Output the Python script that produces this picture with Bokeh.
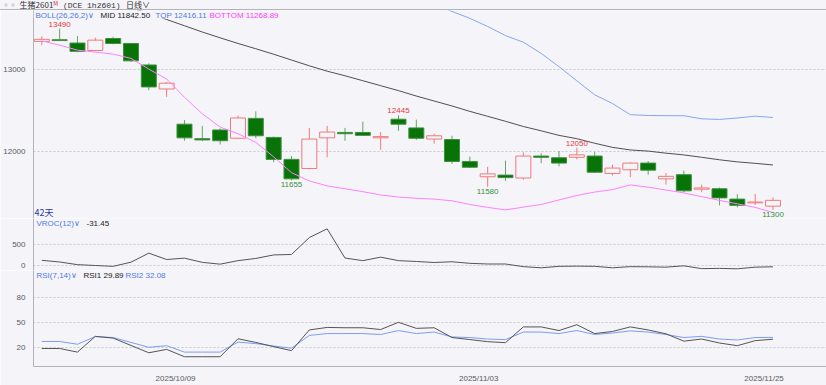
from bokeh.plotting import figure
from bokeh.models import Range1d, FixedTicker, Label, Span, BoxAnnotation, Div
from bokeh.layouts import column
from bokeh.embed import file_html
from bokeh.resources import INLINE

nan = float("nan")

dates = ["2025/09/19", "2025/09/22", "2025/09/23", "2025/09/24", "2025/09/25", "2025/09/26",
         "2025/09/29", "2025/09/30", "2025/10/09", "2025/10/10", "2025/10/13", "2025/10/14",
         "2025/10/15", "2025/10/16", "2025/10/17", "2025/10/20", "2025/10/21", "2025/10/22",
         "2025/10/23", "2025/10/24", "2025/10/27", "2025/10/28", "2025/10/29", "2025/10/30",
         "2025/10/31", "2025/11/03", "2025/11/04", "2025/11/05", "2025/11/06", "2025/11/07",
         "2025/11/10", "2025/11/11", "2025/11/12", "2025/11/13", "2025/11/14", "2025/11/17",
         "2025/11/18", "2025/11/19", "2025/11/20", "2025/11/21", "2025/11/24", "2025/11/25"]

opens = [13335, 13355, 13315, 13225, 13370, 13310, 13050, 12760, 12335, 12160, 12265, 12165,
         12405, 12175, 11910, 11800, 12170, 12235, 12235, 12170, 12395, 12290, 12155, 12150,
         11885, 11700, 11720, 11685, 11950, 11930, 11935, 11950, 11740, 11785, 11865, 11675,
         11725, 11550, 11555, 11430, 11385, 11345]
closes = [13360, 13345, 13215, 13350, 13310, 13100, 12785, 12830, 12170, 12145, 12135, 12410,
          12195, 11910, 11675, 12155, 12240, 12220, 12200, 12185, 12335, 12165, 12195, 11885,
          11815, 11735, 11690, 11950, 11935, 11865, 11965, 11755, 11805, 11865, 11780, 11705,
          11530, 11565, 11445, 11355, 11395, 11415]
highs = [13395, 13490, 13400, 13380, 13390, 13315, 13070, 12845, 12385, 12315, 12285, 12440,
         12490, 12185, 11950, 12290, 12315, 12290, 12365, 12240, 12445, 12390, 12220, 12195,
         11945, 11820, 11895, 11995, 11985, 12010, 12050, 12000, 11845, 11875, 11890, 11745,
         11775, 11605, 11570, 11490, 11490, 11450]
lows = [13290, 13340, 13205, 13215, 13300, 13090, 12745, 12665, 12135, 12130, 12090, 12155,
        12165, 11875, 11655, 11790, 11935, 12135, 12195, 12025, 12255, 12145, 12100, 11855,
        11805, 11580, 11650, 11665, 11865, 11825, 11910, 11745, 11715, 11695, 11725, 11605,
        11515, 11515, 11355, 11330, 11360, 11300]

boll_mid = [14020, 13970, 13915, 13860, 13800, 13740, 13675, 13599, 13524, 13448, 13378, 13310,
            13246, 13180, 13110, 13040, 12975, 12920, 12860, 12800, 12740, 12675, 12615, 12555,
            12490, 12430, 12370, 12307, 12255, 12200, 12160, 12105, 12055, 12024, 12010, 11985,
            11964, 11935, 11905, 11880, 11862, 11842.50]
boll_top = [nan] * 22 + [13778, 13697, 13614, 13515, 13405, 13325, 13190, 13030, 12859, 12690,
                         12585, 12450, 12440, 12438, 12437, 12400, 12392, 12410, 12432, 12416.11]
boll_bottom = [13341, 13290, 13229, 13205, 13181, 13130, 13000, 12880, 12660, 12460, 12300, 12220,
               12116, 11940, 11750, 11650, 11590, 11555, 11520, 11480, 11455, 11440, 11430, 11410,
               11365, 11330, 11300, 11333, 11365, 11420, 11474, 11515, 11545, 11602, 11574, 11540,
               11505, 11460, 11415, 11373, 11330, 11268.89]

vroc = [125, 85, 20, 0, -20, 80, 298, 145, 177, 76, 32, 117, 170, 255, 266, 675, 885, 180, 117,
        201, 117, 97, 72, 90, 52, 36, 36, -28, -56, -20, -16, -20, -56, -28, -32, -40, -8, -76,
        -70, -80, -40, -31.45]

rsi1 = [18.9, 18.9, 14.6, 33.3, 31.2, 22.5, 13.8, 17.8, 9.1, 9.1, 9.1, 30.4, 26.1, 21.1, 16.3,
        40.9, 43.9, 43.5, 43.5, 41.4, 50.0, 42.8, 43.5, 31.9, 29.5, 27.0, 25.8, 44.5, 44.5, 40.2,
        47.1, 36.6, 39.1, 44.5, 40.9, 36.3, 27.6, 30.1, 25.4, 22.2, 28.2, 29.89]
rsi2 = [27.2, 27.2, 23.9, 33.0, 31.9, 26.1, 20.3, 22.2, 14.6, 14.6, 14.6, 26.5, 24.7, 21.8, 19.2,
        34.4, 36.6, 36.6, 36.6, 35.5, 40.2, 36.6, 38.4, 32.6, 31.9, 30.1, 29.4, 38.4, 38.4, 36.6,
        40.2, 35.5, 37.3, 39.8, 38.4, 35.5, 31.9, 33.3, 30.1, 29.0, 31.9, 32.08]

tick_labels = ["2025/10/09", "2025/11/03", "2025/11/25"]
main_ticks = [12000, 13000]
vroc_ticks = [0, 500]
rsi_ticks = [20, 50, 80]
high_marks = [1, 20, 30]
low_marks = [14, 25, 41]

BG = "#f4f4f9"
GRID = "#c9c9d2"
BORDER = "#b2b2ba"
AXC = "#5a5a60"
UP = "#f07a7a"
DN_FILL = "#087408"
DN_LINE = "#3f8f3f"
DN_WICK = "#62a862"
BLUE = "#4f7be6"
MAG = "#ff3cff"
FONT = "Liberation Sans"

W = 826
LEFT = 33
n = len(dates)
xs = list(range(n))
xr = Range1d(-0.466, 44.0)


def base(height, yr, ticks, with_x=False):
    p = figure(width=W, height=height, x_range=xr, y_range=yr, output_backend="svg",
               toolbar_location=None, x_axis_location="below" if with_x else None,
               min_border_left=LEFT, min_border_right=0, min_border_top=0, min_border_bottom=0,
               background_fill_color=BG, border_fill_color=BG, outline_line_color=None)
    p.yaxis.ticker = FixedTicker(ticks=ticks)
    p.yaxis.major_tick_line_color = None
    p.yaxis.minor_tick_line_color = None
    p.yaxis.axis_line_color = BORDER
    p.yaxis.major_label_text_font_size = "8px"
    p.yaxis.major_label_text_font = FONT
    p.yaxis.major_label_text_color = AXC
    p.yaxis.major_label_standoff = 2
    p.ygrid.ticker = FixedTicker(ticks=ticks)
    p.ygrid.grid_line_color = GRID
    p.ygrid.grid_line_dash = "2 2"
    p.xgrid.visible = False
    return p


def label(p, text, dx, dy, color, size="8px", font=FONT, anchor_bottom=False):
    p.add_layout(Label(x=p.x_range.start, y=p.y_range.start if anchor_bottom else p.y_range.end,
                       x_offset=dx, y_offset=dy, text=text, text_color=color, text_font_size=size,
                       text_font=font, text_baseline="bottom" if anchor_bottom else "middle",
                       text_align="left"))


# ---- header ----
header = Div(
    text=("<span style='color:#666;letter-spacing:-1px'>&#9702;&#9702;</span>&nbsp;&nbsp;生猪2601"
          "<span style='color:#e03030;font-size:6px;vertical-align:top;line-height:6px'>M</span>"
          "<span style=\"font-family:'Liberation Mono';font-size:8px\">&nbsp;(DCE 1h2601)</span>"
          "&nbsp;&nbsp;&nbsp;日线<span style='font-size:8px'>&#8744;</span>"),
    width=W, height=10, margin=(0, 0, 0, 0),
    styles={"background-color": BG, "border-bottom": "1px solid " + BORDER, "font-size": "8px",
            "line-height": "8px", "color": "#333", "white-space": "nowrap", "padding-top": "1px",
            "box-sizing": "border-box", "font-family": "'Noto Sans CJK SC'", "padding-left": "2px"})

# ---- main panel ----
yr1 = Range1d(11196, 13708)
p1 = base(208, yr1, main_ticks)
up = [i for i in xs if closes[i] >= opens[i]]
dn = [i for i in xs if closes[i] < opens[i]]
p1.segment(x0=up, y0=[highs[i] for i in up], x1=up, y1=[lows[i] for i in up],
           line_color=UP, line_width=1)
p1.segment(x0=dn, y0=[highs[i] for i in dn], x1=dn, y1=[lows[i] for i in dn],
           line_color=DN_WICK, line_width=1)
p1.vbar(x=up, width=0.84, top=[closes[i] for i in up], bottom=[opens[i] for i in up],
        fill_color=BG, line_color=UP, line_width=1)
p1.vbar(x=dn, width=0.84, top=[opens[i] for i in dn], bottom=[closes[i] for i in dn],
        fill_color=DN_FILL, line_color=DN_LINE, line_width=1)
p1.line(xs, boll_mid, line_color="#505050", line_width=1)
p1.line(xs, boll_top, line_color="#86a6f0", line_width=1)
p1.line(xs, boll_bottom, line_color="#ff80ff", line_width=1)

for i in high_marks:
    p1.add_layout(Label(x=i, y=highs[i], y_offset=2, text=str(highs[i]), text_color="#e83a3a",
                        text_font_size="8px", text_font=FONT, text_align="center", text_baseline="bottom"))
for i in low_marks:
    p1.add_layout(Label(x=i, y=lows[i], y_offset=-2, text=str(lows[i]), text_color="#3a923a",
                        text_font_size="8px", text_font=FONT, text_align="center", text_baseline="top"))

p1.add_layout(BoxAnnotation(left=xr.start, right=12.9, top=yr1.end, bottom=13612,
                            fill_color=BG, fill_alpha=1.0, line_color=None))
label(p1, "BOLL(26,26,2)\u2228", 2, -5, BLUE)
label(p1, "MID %.2f" % boll_mid[-1], 67, -5, "#222222")
label(p1, "TOP %.2f" % boll_top[-1], 122, -5, BLUE)
label(p1, "BOTTOM %.2f" % boll_bottom[-1], 176, -5, MAG)
label(p1, "%d天" % n, 1, 0, "#2c3a9c", size="9px", font="Noto Sans CJK SC", anchor_bottom=True)
p1.add_layout(Span(location=yr1.start, dimension="width", line_color=BORDER, line_width=1))

# ---- VROC panel ----
yr2 = Range1d(-121, 1135)
p2 = base(52, yr2, vroc_ticks)
p2.line(xs, vroc, line_color="#555555", line_width=1)
label(p2, "VROC(12)\u2228", 3, -5, BLUE)
label(p2, "%.2f" % vroc[-1], 53, -5, "#222222")
p2.add_layout(Span(location=yr2.start, dimension="width", line_color=BORDER, line_width=1))

# ---- RSI panel ----
yr3 = Range1d(-2.5, 111.5)
p3 = base(115, yr3, rsi_ticks, with_x=True)
p3.line(xs, rsi2, line_color="#7f9cf2", line_width=1)
p3.line(xs, rsi1, line_color="#555555", line_width=1)
label(p3, "RSI(7,14)\u2228", 3, -5, BLUE)
label(p3, "RSI1 %.2f" % rsi1[-1], 50, -5, "#222222")
label(p3, "RSI2 %.2f" % rsi2[-1], 92, -5, BLUE)

tick_pos = [dates.index(d) - 0.5 for d in tick_labels]
p3.xaxis.ticker = FixedTicker(ticks=tick_pos)
p3.xaxis.major_label_overrides = {pos: lab for pos, lab in zip(tick_pos, tick_labels)}
p3.xaxis.major_tick_line_color = None
p3.xaxis.minor_tick_line_color = None
p3.xaxis.axis_line_color = BORDER
p3.xaxis.major_label_text_font_size = "8px"
p3.xaxis.major_label_text_font = FONT
p3.xaxis.major_label_text_color = AXC
p3.xaxis.major_label_standoff = 1

layout = column(header, p1, p2, p3, spacing=0)
open("out.html", "w").write(file_html(layout, INLINE))
